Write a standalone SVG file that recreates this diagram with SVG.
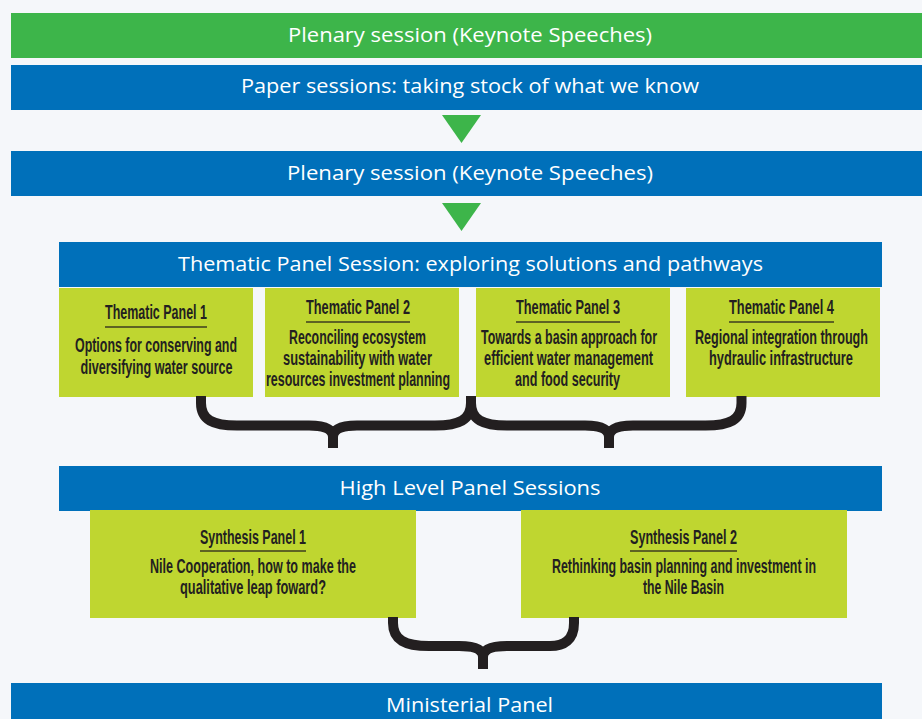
<svg xmlns="http://www.w3.org/2000/svg" width="922" height="719" viewBox="0 0 922 719">
<style>
.bg{fill:#f5f7fa}
.green{fill:#3db54a}
.blue{fill:#0070ba}
.lime{fill:#bfd630}
.hd{font-family:"Open Sans","Noto Sans","Liberation Sans",sans-serif;font-size:19.5px;font-weight:500;fill:#ffffff;text-anchor:middle}
.pt{font-family:"Liberation Sans Narrow","Liberation Sans",Arial,sans-serif;font-size:19.5px;font-weight:bold;fill:#231f20;text-anchor:middle}
.ul{stroke:#3d3d1f;stroke-width:1.5}
.brace{fill:none;stroke:#231f20;stroke-width:10;stroke-linecap:butt;stroke-linejoin:round}
.tri{fill:#3db54a}
</style>
<rect class="bg" x="0" y="0" width="922" height="719"/>

<g id="plenary-top">
<rect class="green" x="11" y="13" width="920" height="45"/>
<text class="hd" x="470" y="41.5" textLength="364" lengthAdjust="spacingAndGlyphs">Plenary session (Keynote Speeches)</text>
</g>

<g id="paper-sessions">
<rect class="blue" x="11" y="65" width="920" height="45"/>
<text class="hd" x="470" y="93" textLength="458" lengthAdjust="spacingAndGlyphs">Paper sessions: taking stock of what we know</text>
</g>

<g id="plenary-second">
<rect class="blue" x="11" y="151" width="920" height="45"/>
<text class="hd" x="470" y="179.5" textLength="366" lengthAdjust="spacingAndGlyphs">Plenary session (Keynote Speeches)</text>
</g>

<g id="thematic-header">
<rect class="blue" x="59" y="242" width="823" height="45"/>
<text class="hd" x="470.5" y="270.5" textLength="585" lengthAdjust="spacingAndGlyphs">Thematic Panel Session: exploring solutions and pathways</text>
</g>

<g id="thematic-panel-1">
<rect class="lime" x="59" y="288" width="194" height="109"/>
<text class="pt" x="156" y="318.5" textLength="102" lengthAdjust="spacingAndGlyphs">Thematic Panel 1</text>
<line class="ul" x1="105" y1="327" x2="207" y2="327"/>
<text class="pt" x="156" y="351.5" textLength="162" lengthAdjust="spacingAndGlyphs">Options for conserving and</text>
<text class="pt" x="156.5" y="373.5" textLength="152" lengthAdjust="spacingAndGlyphs">diversifying water source</text>
</g>

<g id="thematic-panel-2">
<rect class="lime" x="265" y="288" width="194" height="109"/>
<text class="pt" x="358" y="313.5" textLength="104" lengthAdjust="spacingAndGlyphs">Thematic Panel 2</text>
<line class="ul" x1="306" y1="322" x2="410" y2="322"/>
<text class="pt" x="357.5" y="343.5" textLength="137" lengthAdjust="spacingAndGlyphs">Reconciling ecosystem</text>
<text class="pt" x="357.5" y="364.5" textLength="149" lengthAdjust="spacingAndGlyphs">sustainability with water</text>
<text class="pt" x="358" y="385.5" textLength="184" lengthAdjust="spacingAndGlyphs">resources investment planning</text>
</g>

<g id="thematic-panel-3">
<rect class="lime" x="476" y="288" width="194" height="109"/>
<text class="pt" x="568" y="313.5" textLength="104" lengthAdjust="spacingAndGlyphs">Thematic Panel 3</text>
<line class="ul" x1="516" y1="322" x2="620" y2="322"/>
<text class="pt" x="569" y="343.5" textLength="176" lengthAdjust="spacingAndGlyphs">Towards a basin approach for</text>
<text class="pt" x="568.5" y="364.5" textLength="169" lengthAdjust="spacingAndGlyphs">efficient water management</text>
<text class="pt" x="567.5" y="385.5" textLength="105" lengthAdjust="spacingAndGlyphs">and food security</text>
</g>

<g id="thematic-panel-4">
<rect class="lime" x="686" y="288" width="194" height="109"/>
<text class="pt" x="781.5" y="313.5" textLength="105" lengthAdjust="spacingAndGlyphs">Thematic Panel 4</text>
<line class="ul" x1="729" y1="322" x2="834" y2="322"/>
<text class="pt" x="781.5" y="343.5" textLength="173" lengthAdjust="spacingAndGlyphs">Regional integration through</text>
<text class="pt" x="781" y="364.5" textLength="144" lengthAdjust="spacingAndGlyphs">hydraulic infrastructure</text>
</g>

<g id="high-level-header">
<rect class="blue" x="59" y="466" width="823" height="45"/>
<text class="hd" x="470" y="494.5" textLength="261" lengthAdjust="spacingAndGlyphs">High Level Panel Sessions</text>
</g>

<g id="synthesis-panel-1">
<rect class="lime" x="90" y="510" width="326" height="108"/>
<text class="pt" x="253" y="543.5" textLength="106" lengthAdjust="spacingAndGlyphs">Synthesis Panel 1</text>
<line class="ul" x1="200" y1="551" x2="306" y2="551"/>
<text class="pt" x="253" y="573" textLength="206" lengthAdjust="spacingAndGlyphs">Nile Cooperation, how to make the</text>
<text class="pt" x="253" y="593.5" textLength="146" lengthAdjust="spacingAndGlyphs">qualitative leap foward?</text>
</g>

<g id="synthesis-panel-2">
<rect class="lime" x="521" y="510" width="326" height="108"/>
<text class="pt" x="683.5" y="544" textLength="107" lengthAdjust="spacingAndGlyphs">Synthesis Panel 2</text>
<line class="ul" x1="630" y1="551" x2="737" y2="551"/>
<text class="pt" x="684" y="572.5" textLength="264" lengthAdjust="spacingAndGlyphs">Rethinking basin planning and investment in</text>
<text class="pt" x="683.5" y="593.5" textLength="81" lengthAdjust="spacingAndGlyphs">the Nile Basin</text>
</g>

<g id="ministerial-panel">
<rect class="blue" x="11" y="683" width="871" height="40"/>
<text class="hd" x="469.5" y="712" textLength="167" lengthAdjust="spacingAndGlyphs">Ministerial Panel</text>
</g>

<g id="connectors">
<polygon class="tri" points="442,115 481,115 461.5,143"/>
<polygon class="tri" points="442,203 481,203 461.5,231"/>
<path class="brace" d="M201,396 L201,403 C201,420 213,425.5 237,425.5 L309,425.5 C325,425.5 333,429 333,437 L333,448 M333,437 C333,429 341,425.5 357,425.5 L435,425.5 C459,425.5 471,420 471,403 L471,396"/>
<path class="brace" d="M471,396 L471,403 C471,420 483,425.5 507,425.5 L585,425.5 C601,425.5 609,429 609,437 L609,448 M609,437 C609,429 617,425.5 633,425.5 L705.5,425.5 C729.5,425.5 741.5,420 741.5,403 L741.5,396"/>
<path class="brace" d="M393,617 L393,623 C393,640 405,646 429,646 L459,646 C475,646 483,649.5 483,657 L483,669 M483,657 C483,649.5 491,646 507,646 L550,646 C564,646 574,640 574,623 L574,617"/>
</g>
</svg>
